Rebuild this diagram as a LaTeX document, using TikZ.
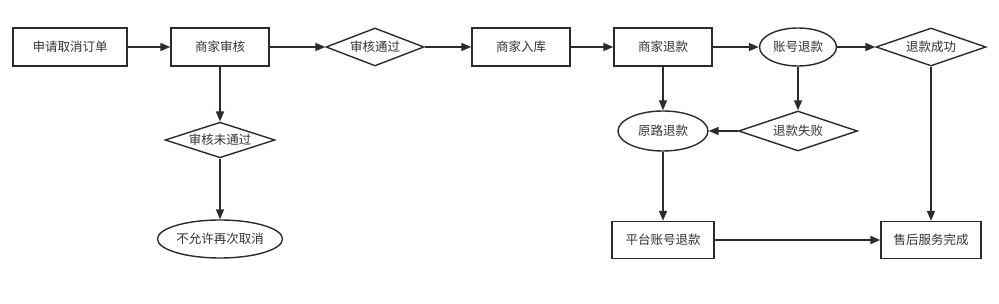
\documentclass[tikz,border=0pt]{standalone}
\usepackage{fontspec}
\setmainfont{Noto Sans CJK SC}
\usetikzlibrary{shapes.geometric,arrows.meta}
\definecolor{ink}{HTML}{2B2B2B}
\definecolor{txt}{HTML}{333333}
\tikzset{
  base/.style={draw=ink, line width=1.4pt, fill=white, text=txt, inner sep=0pt, font=\fontsize{12.5}{14}\selectfont},
  boxnode/.style={base, rectangle, minimum height=38pt},
  ovalnode/.style={base, ellipse},
  dianode/.style={base, diamond, aspect=2.6},
  conn/.style={draw=ink, line width=1.6pt, -{Triangle[length=10pt,width=8pt]}}
}
\begin{document}
\begin{tikzpicture}[x=1pt,y=-1pt]
\useasboundingbox (0,0) rectangle (999,304);
\node[boxnode, minimum width=114pt] (a) at (70,47) {申请取消订单};
\node[boxnode, minimum width=98pt] (b) at (220,47) {商家审核};
\node[dianode, minimum width=98pt, minimum height=38pt] (c) at (375,47) {审核通过};
\node[boxnode, minimum width=98pt] (d) at (521,47) {商家入库};
\node[boxnode, minimum width=98pt] (e) at (663,47) {商家退款};
\node[ovalnode, minimum width=77pt, minimum height=38pt] (f) at (798,47) {账号退款};
\node[dianode, minimum width=110pt, minimum height=38pt] (g) at (931,47) {退款成功};
\node[dianode, minimum width=110pt, minimum height=35pt] (h) at (220,140) {审核未通过};
\node[ovalnode, minimum width=125pt, minimum height=38pt] (i) at (220,239) {不允许再次取消};
\node[ovalnode, minimum width=90pt, minimum height=40pt] (j) at (663,131) {原路退款};
\node[dianode, minimum width=119pt, minimum height=40pt] (k) at (798,131) {退款失败};
\node[boxnode, minimum width=102pt, minimum height=37pt] (l) at (663,240) {平台账号退款};
\node[boxnode, minimum width=100pt, minimum height=37pt] (m) at (931,240) {售后服务完成};
\draw[conn] (a) -- (b);
\draw[conn] (b) -- (c);
\draw[conn] (c) -- (d);
\draw[conn] (d) -- (e);
\draw[conn] (e) -- (f);
\draw[conn] (f) -- (g);
\draw[conn] (b) -- (h);
\draw[conn] (h) -- (i);
\draw[conn] (e) -- (j);
\draw[conn] (f) -- (k);
\draw[conn] (k) -- (j);
\draw[conn] (j) -- (l);
\draw[conn] (l) -- (m);
\draw[conn] (g) -- (m);
\end{tikzpicture}
\end{document}
